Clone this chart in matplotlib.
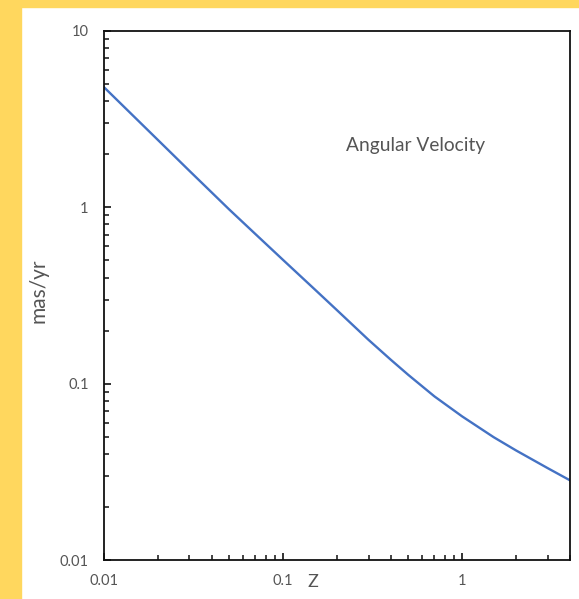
import matplotlib
matplotlib.use("Agg")
import matplotlib.pyplot as plt
from matplotlib.patches import Rectangle
from matplotlib.ticker import LogLocator, FixedLocator, NullFormatter

# Data
z = [0.01, 0.02, 0.03, 0.05, 0.07, 0.1, 0.15, 0.2, 0.3, 0.4, 0.5, 0.7, 1.0, 1.5, 2.0, 3.0, 4.0]
mu = [4.80, 2.41, 1.61, 0.973, 0.706, 0.503, 0.343, 0.261, 0.1772, 0.1365, 0.1122, 0.0847,
      0.0652, 0.0497, 0.0418, 0.0332, 0.0283]

x_ticks = [0.01, 0.1, 1]
x_labels = ["0.01", "0.1", "1"]
y_ticks = [0.01, 0.1, 1, 10]
y_labels = ["0.01", "0.1", "1", "10"]

W, H = 579, 599
fig = plt.figure(figsize=(W / 100, H / 100), dpi=100)
fig.patch.set_facecolor("white")
yellow = "#FFD75E"
fig.patches.append(Rectangle((0, 0), 21 / W, 1, transform=fig.transFigure, color=yellow, zorder=0))
fig.patches.append(Rectangle((0, 1 - 7 / H), 1, 7 / H, transform=fig.transFigure, color=yellow, zorder=0))

fam = ["Lato", "DejaVu Sans"]
gray = "#555555"

ax = fig.add_axes([104 / W, 1 - 560 / H, (570 - 104) / W, (560 - 31) / H])
ax.plot(z, mu, color="#4472C4", lw=1.7, solid_joinstyle="round")
ax.set_xscale("log")
ax.set_yscale("log")
ax.set_xlim(0.01, 4.0)
ax.set_ylim(0.01, 10)

for s in ["left", "bottom", "top", "right"]:
    ax.spines[s].set_linewidth(1.3)
    ax.spines[s].set_color("#111111")

ax.xaxis.set_major_locator(FixedLocator(x_ticks))
ax.yaxis.set_major_locator(FixedLocator(y_ticks))
ax.set_xticklabels(x_labels)
ax.set_yticklabels(y_labels)
ax.xaxis.set_minor_locator(LogLocator(base=10, subs=range(2, 10)))
ax.yaxis.set_minor_locator(LogLocator(base=10, subs=range(2, 10)))
ax.xaxis.set_minor_formatter(NullFormatter())
ax.yaxis.set_minor_formatter(NullFormatter())
ax.tick_params(which="both", direction="in", color="#111111", top=False, right=False)
ax.tick_params(which="major", length=5, width=1.2)
ax.tick_params(which="minor", length=3.5, width=1.1)
ax.tick_params(axis="y", which="major", pad=11, labelsize=10.5, labelcolor=gray)
ax.tick_params(axis="x", which="major", pad=10, labelsize=10.5, labelcolor=gray)
for lab in ax.get_xticklabels() + ax.get_yticklabels():
    lab.set_family(fam)

fig.text(313 / W, 1 - 582 / H, "Z", ha="center", va="center", fontsize=13, color=gray, family=fam)
fig.text(38 / W, 1 - 291 / H, "mas/yr", ha="center", va="center", rotation=90, fontsize=15, color=gray, family=fam)
fig.text(416 / W, 1 - 145 / H, "Angular Velocity", ha="center", va="center",
         fontsize=13.8, color=gray, family=fam)

fig.savefig("out.png", dpi=100, facecolor=fig.get_facecolor())
